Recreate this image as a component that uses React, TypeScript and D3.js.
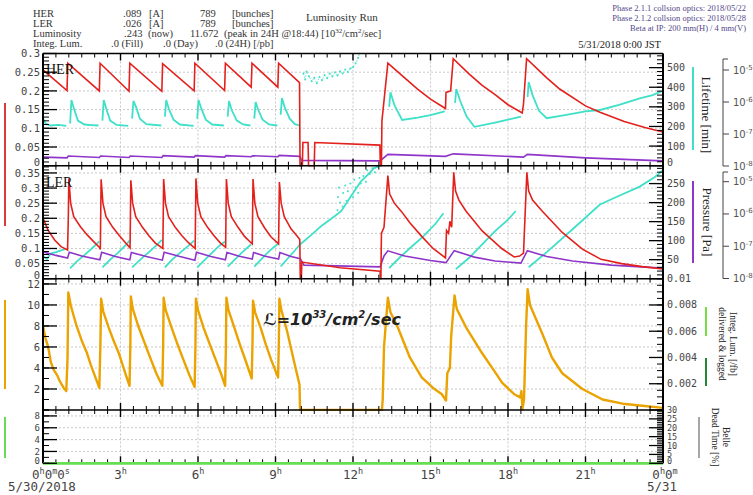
import React from "react";
import * as d3 from "d3";

type Pt = [number, number];

// time axis (hours of 5/30/2018)
const hourTicks = [3, 6, 9, 12, 15, 18, 21];

// HER current [A]
const herCurrent: Pt[] = [
  [0, 0.256], [0.93, 0.201], [0.96, 0.274],
  [2.18, 0.2], [2.21, 0.274],
  [3.33, 0.199], [3.36, 0.274],
  [4.6, 0.199], [4.63, 0.273],
  [5.85, 0.2], [5.88, 0.274],
  [7.03, 0.201], [7.06, 0.274],
  [8.06, 0.21], [8.09, 0.274],
  [9.09, 0.21], [9.12, 0.274],
  [9.93, 0.222], [9.95, 0], [10.04, 0], [10.06, 0.062], [10.26, 0.062], [10.28, 0], [10.5, 0],
  [10.52, 0.062], [13.04, 0.055], [13.06, 0], [13.1, 0], [13.12, 0.12], [13.35, 0.274],
  [14.0, 0.235], [14.5, 0.205], [15.0, 0.178], [15.58, 0.153], [15.6, 0.196], [15.78, 0.2], [15.88, 0.286],
  [16.5, 0.245], [17.0, 0.215], [17.5, 0.19], [18.0, 0.163], [18.55, 0.141], [18.6, 0.165], [18.72, 0.286],
  [19.5, 0.235], [20.0, 0.205], [21.0, 0.16], [21.56, 0.143], [22.5, 0.118], [23.3, 0.102], [24.0, 0.09],
];

// HER lifetime [min], one run per fill
const herLifetime: Pt[][] = [
  [[0, 242], [0.1, 215], [0.3, 205], [0.6, 208], [0.9, 203]],
  [[1.05, 215], [1.1, 335], [1.2, 290], [1.35, 230], [1.6, 210], [1.9, 207], [2.15, 205]],
  [[2.3, 230], [2.35, 335], [2.45, 290], [2.6, 230], [2.85, 208], [3.3, 203]],
  [[3.45, 240], [3.5, 330], [3.6, 300], [3.75, 240], [4.0, 212], [4.58, 205]],
  [[4.72, 250], [4.77, 335], [4.87, 290], [5.05, 235], [5.3, 210], [5.83, 203]],
  [[5.97, 240], [6.02, 335], [6.12, 295], [6.3, 235], [6.55, 210], [7.0, 205]],
  [[7.15, 250], [7.2, 330], [7.3, 285], [7.5, 230], [7.75, 210], [8.03, 205]],
  [[8.18, 240], [8.23, 325], [8.33, 285], [8.5, 235], [8.75, 210], [9.07, 205]],
  [[9.2, 260], [9.25, 345], [9.35, 300], [9.55, 240], [9.75, 212], [9.93, 205]],
  [[13.4, 300], [13.45, 374], [13.6, 310], [13.9, 233], [14.5, 245], [15.0, 258], [15.55, 277]],
  [[15.95, 320], [16.0, 391], [16.15, 330], [16.4, 250], [16.7, 198], [17.5, 220], [18.0, 235], [18.5, 250]],
  [[18.76, 350], [18.8, 427], [18.95, 360], [19.2, 280], [19.5, 242], [20.2, 258], [21.0, 277],
   [21.56, 284], [22.3, 310], [23.1, 343], [23.6, 360], [23.95, 380]],
];

// HER lifetime while the beams are off
const herLifetimeOff: Pt[] = [
  [10.08, 470], [10.15, 440], [10.2, 480], [10.3, 455], [10.4, 430], [10.5, 448], [10.6, 420],
  [10.7, 452], [10.8, 436], [10.9, 462], [11.0, 446], [11.1, 470], [11.2, 455], [11.3, 476],
  [11.4, 460], [11.5, 482], [11.6, 470], [11.7, 490], [11.8, 478], [11.9, 496], [12.0, 502],
  [12.1, 522], [12.2, 550], [12.25, 572],
];

// HER pressure [Pa]
const herPressure: Pt[] = [
  [0, 1.9e-8], [0.93, 1.8e-8], [0.98, 2.05e-8], [2.18, 1.85e-8], [2.23, 2.05e-8], [3.33, 1.85e-8],
  [3.38, 2.05e-8], [4.6, 1.85e-8], [4.65, 2.1e-8], [5.85, 1.9e-8], [5.9, 2.1e-8], [7.03, 1.9e-8],
  [7.08, 2.1e-8], [8.06, 1.95e-8], [8.11, 2.1e-8], [9.09, 1.95e-8], [9.14, 2.15e-8], [9.95, 2.0e-8],
  [10.0, 1.5e-8], [13.05, 1.45e-8], [13.35, 2.3e-8], [15.58, 2.0e-8], [15.88, 2.4e-8],
  [18.6, 1.9e-8], [18.75, 2.3e-8], [21.0, 1.8e-8], [24, 1.45e-8],
];

// LER current [A]
const lerCurrent: Pt[] = [
  [0, 0.2], [0.2, 0.16], [0.45, 0.128], [0.7, 0.106], [0.95, 0.095], [0.98, 0.2], [1.0, 0.332],
  [1.07, 0.25], [1.19, 0.205], [1.45, 0.172], [1.71, 0.145], [1.97, 0.122], [2.17, 0.105], [2.22, 0.097], [2.25, 0.329],
  [2.32, 0.25], [2.44, 0.205], [2.7, 0.17], [2.95, 0.143], [3.2, 0.118], [3.37, 0.102], [3.4, 0.326],
  [3.47, 0.25], [3.59, 0.205], [3.85, 0.17], [4.1, 0.142], [4.35, 0.118], [4.64, 0.1], [4.67, 0.33],
  [4.74, 0.25], [4.86, 0.205], [5.12, 0.17], [5.37, 0.143], [5.62, 0.12], [5.89, 0.1], [5.92, 0.332],
  [5.99, 0.25], [6.11, 0.205], [6.37, 0.17], [6.62, 0.142], [6.87, 0.118], [7.07, 0.104], [7.1, 0.33],
  [7.17, 0.25], [7.29, 0.205], [7.55, 0.17], [7.8, 0.14], [8.1, 0.115], [8.13, 0.33],
  [8.2, 0.25], [8.32, 0.205], [8.58, 0.168], [8.83, 0.138], [9.12, 0.115], [9.15, 0.32],
  [9.22, 0.25], [9.34, 0.205], [9.6, 0.165], [9.85, 0.14], [9.94, 0.13], [9.96, 0], [10.0, 0],
  [10.02, 0.055], [11.5, 0.036], [13.05, 0.025], [13.06, 0], [13.08, 0], [13.1, 0.15], [13.2, 0.17], [13.35, 0.341],
  [13.42, 0.28], [13.6, 0.25], [13.88, 0.222], [14.2, 0.185], [14.66, 0.14], [15.1, 0.1], [15.44, 0.078],
  [15.58, 0.069], [15.62, 0.16], [15.7, 0.15], [15.75, 0.19], [15.82, 0.17], [15.9, 0.352],
  [15.97, 0.29], [16.1, 0.26], [16.37, 0.224], [17.0, 0.158], [17.77, 0.099], [18.24, 0.072],
  [18.45, 0.075], [18.6, 0.085], [18.73, 0.352],
  [18.8, 0.29], [18.95, 0.26], [19.32, 0.224], [20.1, 0.153], [20.88, 0.098], [21.6, 0.064],
  [22.4, 0.05], [23.2, 0.04], [24, 0.032],
];

// LER lifetime [min], one run per fill
const lerLifetime: Pt[][] = [
  [[0, 60], [0.15, 52], [0.3, 66], [0.5, 70], [0.85, 78]],
  [[1.05, 27], [1.3, 45], [1.6, 62], [1.9, 80], [2.18, 98]],
  [[2.3, 30], [2.6, 50], [2.9, 68], [3.2, 88], [3.35, 100]],
  [[3.45, 30], [3.8, 52], [4.1, 70], [4.4, 88], [4.6, 102]],
  [[4.72, 30], [5.0, 50], [5.3, 68], [5.6, 85], [5.85, 100]],
  [[5.97, 30], [6.3, 52], [6.6, 72], [6.85, 88], [7.05, 98]],
  [[7.15, 32], [7.45, 52], [7.75, 72], [8.05, 90]],
  [[8.18, 32], [8.5, 55], [8.8, 75], [9.1, 92]],
  [[9.2, 32], [9.5, 55], [9.8, 78], [9.95, 90], [10.3, 110], [10.8, 140], [11.3, 165], [11.55, 178],
   [11.9, 215], [12.3, 255], [12.6, 275], [12.8, 290], [13.0, 296]],
  [[13.4, 28], [13.8, 55], [14.2, 80], [14.7, 110], [15.2, 145], [15.5, 172]],
  [[15.98, 25], [16.5, 55], [17.0, 90], [17.5, 125], [18.0, 155], [18.3, 178]],
  [[18.8, 30], [19.5, 70], [20.5, 130], [21.56, 195], [22.3, 218], [23.1, 242], [23.7, 268], [24, 285]],
];

// LER lifetime while the beams are off
const lerLifetimeOff: Pt[] = [
  [11.4, 180], [11.42, 215], [11.45, 240], [11.5, 200], [11.6, 190], [11.62, 225], [11.7, 245],
  [11.75, 205], [11.8, 230], [11.9, 250], [12.0, 215], [12.05, 260], [12.1, 240], [12.2, 225],
  [12.25, 265], [12.3, 250], [12.4, 270], [12.5, 255], [12.55, 285], [12.65, 275], [12.75, 290],
  [12.85, 280], [12.95, 295],
];

// LER pressure [Pa]
const lerPressure: Pt[] = [
  [0, 6.7e-8], [0.5, 5.2e-8], [0.95, 4.3e-8], [1.02, 6.5e-8], [1.5, 5e-8], [2.2, 3.8e-8],
  [2.27, 6.5e-8], [2.8, 4.8e-8], [3.36, 3.8e-8], [3.42, 6.4e-8], [4.0, 4.8e-8], [4.62, 3.7e-8],
  [4.69, 6.5e-8], [5.3, 4.8e-8], [5.88, 3.7e-8], [5.94, 6.5e-8], [6.5, 4.8e-8], [7.06, 3.8e-8],
  [7.12, 6.4e-8], [7.6, 4.9e-8], [8.1, 4.0e-8], [8.15, 6.4e-8], [8.6, 4.9e-8], [9.12, 4.0e-8],
  [9.17, 6.4e-8], [9.6, 4.8e-8], [9.96, 4.1e-8], [10.1, 2.6e-8], [13.05, 2.3e-8], [13.2, 5e-8],
  [13.35, 7.2e-8], [14.0, 5.0e-8], [15.0, 3.6e-8], [15.6, 3.1e-8], [15.92, 7.3e-8], [16.7, 4.6e-8],
  [17.5, 3.5e-8], [18.5, 3.0e-8], [18.75, 7.3e-8], [19.5, 4.8e-8], [20.5, 3.5e-8], [22, 2.6e-8],
  [24, 2.1e-8],
];

// Luminosity [10^33/cm^2/s]
const luminosity: Pt[] = [
  [0, 8.0], [0.1, 6.8], [0.2, 6.0], [0.3, 4.6], [0.4, 3.9], [0.55, 3.3], [0.66, 2.7], [0.8, 2.1], [0.9, 1.8], [0.95, 5.0], [0.98, 11.2],
  [1.08, 9.9], [1.3, 8.0], [1.5, 6.6], [1.69, 5.5], [1.85, 4.3], [2.0, 3.3], [2.18, 2.1], [2.22, 6.0], [2.25, 10.6],
  [2.33, 9.4], [2.55, 7.8], [2.75, 6.5], [2.95, 5.3], [3.2, 3.4], [3.35, 2.3], [3.38, 6.0], [3.4, 10.8],
  [3.48, 9.6], [3.7, 7.9], [3.9, 6.6], [4.1, 5.3], [4.4, 3.4], [4.62, 2.3], [4.65, 6.0], [4.67, 10.7],
  [4.75, 9.5], [4.97, 7.9], [5.17, 6.5], [5.37, 5.2], [5.67, 3.3], [5.87, 2.2], [5.9, 6.0], [5.92, 10.6],
  [6.0, 9.5], [6.22, 7.8], [6.42, 6.5], [6.62, 5.2], [6.9, 3.4], [7.05, 2.3], [7.08, 6.0], [7.1, 10.7],
  [7.18, 9.5], [7.4, 7.9], [7.6, 6.4], [7.8, 5.0], [8.08, 3.0], [8.11, 6.5], [8.13, 10.4],
  [8.21, 9.3], [8.43, 7.8], [8.63, 6.2], [8.83, 4.8], [9.1, 3.1], [9.13, 6.5], [9.15, 10.6],
  [9.23, 9.5], [9.45, 7.5], [9.7, 4.8], [9.93, 2.4], [9.95, 0], [13.12, 0], [13.15, 1.0], [13.2, 6.0], [13.35, 10.7],
  [13.45, 9.3], [13.73, 7.9], [14.2, 5.0], [14.66, 3.1], [15.1, 2.1], [15.44, 1.5], [15.6, 0.9], [15.65, 3.5],
  [15.75, 4.0], [15.8, 7.0], [15.93, 10.9],
  [16.02, 9.6], [16.37, 7.9], [17.0, 5.4], [17.5, 3.6], [17.77, 2.6], [18.24, 1.5], [18.47, 1.2], [18.52, 1.8],
  [18.56, 0.1], [18.62, 1.0], [18.7, 8.0], [18.76, 11.5],
  [18.85, 10.0], [19.32, 7.3], [19.7, 5.0], [20.1, 3.5], [20.88, 2.0], [21.66, 1.0], [22.44, 0.6], [23.2, 0.4], [24, 0.2],
];

// Belle dead time [%]
const deadTime: Pt[] = [[0, 0], [24, 0]];

// ---- layout ----
const L = 43;
const R = 663;
const P1 = [53.5, 165.7];
const P2 = [165.7, 278.7];
const P3 = [278.7, 410];
const P4 = [410, 463.3];

const RED = "#e3211c";
const CYAN = "#3fe0c8";
const PURPLE = "#8f35c9";
const ORANGE = "#eaa300";
const GREEN = "#66dd55";
const MONO = "'DejaVu Sans Mono', monospace";
const SANS = "'DejaVu Sans', sans-serif";
const SERIF = "'Liberation Serif', 'Times New Roman', serif";

const x = d3.scaleLinear().domain([0, 24]).range([L, R]);
const yHer = d3.scaleLinear().domain([0, 0.3]).range([P1[1], P1[0]]);
const yHerLife = d3.scaleLinear().domain([0, 572]).range([P1[1], P1[0]]);
const yHerPres = d3.scaleLog().domain([1e-8, 1e-5]).range([166, 70]);
const yLer = d3.scaleLinear().domain([0, 0.374]).range([P2[1], P2[0]]);
const yLerLife = d3.scaleLinear().domain([0, 297]).range([P2[1], P2[0]]);
const yLerPres = d3.scaleLog().domain([1e-8, 1e-5]).range([278.5, 181.7]);
const yLum = d3.scaleLinear().domain([0, 12.5]).range([P3[1], P3[0]]);
const yInteg = d3.scaleLinear().domain([0, 0.01]).range([P3[1], P3[0]]);
const yDead = d3.scaleLinear().domain([0, 9]).range([P4[1], P4[0]]);
const yDeadR = d3.scaleLinear().domain([0, 30]).range([P4[1], P4[0]]);

const steps = (lo: number, hi: number, st: number) =>
  d3.range(0, Math.round((hi - lo) / st) + 1).map((i) => +(lo + i * st).toFixed(6));
const fmt = (v: number) => String(+v.toFixed(4));

function path(data: Pt[], ys: (v: number) => number) {
  return d3
    .line<Pt>()
    .x((d) => x(d[0]))
    .y((d) => ys(d[1]))(data) as string;
}

// zero labels on shared panel edges sit a little higher, like the original
function leftAxis(key: string, s: any, majors: number[], minors: number[], labels: number[], fs = 10.5) {
  return (
    <g key={key} stroke="#000">
      {minors.map((v, i) => (
        <line key={"m" + i} x1={L} x2={L + 6} y1={s(v)} y2={s(v)} />
      ))}
      {majors.map((v, i) => (
        <line key={"M" + i} x1={L} x2={L + 14} y1={s(v)} y2={s(v)} strokeWidth={1.3} />
      ))}
      {labels.map((v, i) => (
        <text key={"t" + i} x={L - 3} y={s(v)} dy={v === 0 ? "0.05em" : "0.35em"} textAnchor="end" fontSize={fs}
          fontFamily={MONO} fill="#444" stroke="none">
          {fmt(v)}
        </text>
      ))}
    </g>
  );
}

function rightAxis(key: string, s: any, majors: number[], minors: number[], labels: number[], fs = 10) {
  return (
    <g key={key} stroke="#000">
      {minors.map((v, i) => (
        <line key={"m" + i} x1={R - 6} x2={R} y1={s(v)} y2={s(v)} />
      ))}
      {majors.map((v, i) => (
        <line key={"M" + i} x1={R - 14} x2={R} y1={s(v)} y2={s(v)} strokeWidth={1.3} />
      ))}
      {labels.map((v, i) => (
        <text key={"t" + i} x={R + 4} y={s(v)} dy={v === 0 ? "0.05em" : "0.35em"} fontSize={fs}
          fontFamily={MONO} fill="#444" stroke="none">
          {fmt(v)}
        </text>
      ))}
    </g>
  );
}

function logAxis(key: string, s: any, top: number) {
  const ax = 723;
  const decades = [-8, -7, -6, -5];
  return (
    <g key={key}>
      <line x1={ax} x2={ax} y1={top} y2={s(1e-8)} stroke="#444" />
      <line x1={ax} x2={ax + 5} y1={top} y2={top} stroke="#444" />
      {decades.map((k) => (
        <g key={k}>
          <line x1={ax} x2={ax + 6} y1={s(Math.pow(10, k))} y2={s(Math.pow(10, k))} stroke="#444" />
          <text x={ax + 10} y={s(Math.pow(10, k))} dy="0.35em" fontSize={10} fontFamily={SANS} fill="#555">
            10<tspan fontSize={7} dy={-4}>{k}</tspan>
          </text>
        </g>
      ))}
    </g>
  );
}

function rotLabel(lines: { t: string; x: number }[], cy: number, fs: number) {
  return lines.map((l, i) => (
    <text key={l.t + i} transform={`translate(${l.x},${cy}) rotate(90)`} textAnchor="middle"
      dy="0.35em" fontSize={fs} fontFamily={SERIF} fill="#222">
      {l.t}
    </text>
  ));
}

export default function App() {
  const edges = [
    { y: P1[0], up: 0, down: 1 },
    { y: P2[0], up: 1, down: 1 },
    { y: P3[0], up: 1, down: 1 },
    { y: P4[0], up: 1, down: 1 },
    { y: P4[1], up: 1, down: 0 },
  ];
  const halfHours = d3.range(0, 48.5, 1).map((i) => i / 2);
  const panels = [P1, P2, P3, P4];
  const hGrid: { y: number }[] = [
    ...steps(0.05, 0.25, 0.05).map((v) => ({ y: yHer(v) })),
    ...steps(0.05, 0.35, 0.05).map((v) => ({ y: yLer(v) })),
    ...steps(2, 12, 2).map((v) => ({ y: yLum(v) })),
    ...steps(2, 8, 2).map((v) => ({ y: yDead(v) })),
  ];
  const sup = (s: string) => (
    <tspan fontSize={8.5} dy={-5}>{s}</tspan>
  );

  return (
    <svg width={753} height={495} style={{ position: "absolute", left: 0, top: 0, background: "#fff" }}>
      <defs>
        {panels.map((p, i) => (
          <clipPath id={"clip" + i} key={i}>
            <rect x={L} y={p[0] - 1} width={R - L} height={p[1] - p[0] + 2} />
          </clipPath>
        ))}
      </defs>

      {/* header */}
      <g fontFamily={SERIF} fontSize={10.5} fill="#333">
        <text x={33} y={17}>HER</text>
        <text x={123} y={17}>.089</text>
        <text x={149} y={17}>[A]</text>
        <text x={200} y={17}>789</text>
        <text x={232} y={17}>[bunches]</text>
        <text x={33} y={27}>LER</text>
        <text x={123} y={27}>.026</text>
        <text x={149} y={27}>[A]</text>
        <text x={200} y={27}>789</text>
        <text x={232} y={27}>[bunches]</text>
        <text x={33} y={37}>Luminosity</text>
        <text x={124} y={37}>.243</text>
        <text x={148} y={37}>(now)</text>
        <text x={190} y={37}>11.672</text>
        <text x={224} y={37}>
          (peak in 24H @18:44) [10<tspan fontSize={7} dy={-4}>32</tspan>
          <tspan dy={4}>/cm</tspan>
          <tspan fontSize={7} dy={-4}>2</tspan>
          <tspan dy={4}>/sec]</tspan>
        </text>
        <text x={33} y={47}>Integ. Lum.</text>
        <text x={111} y={47}>.0 (Fill)</text>
        <text x={163} y={47}>.0 (Day)</text>
        <text x={215} y={47}>.0 (24H) [/pb]</text>
        <text x={306} y={21} fontSize={11}>Luminosity Run</text>
      </g>
      <g fontFamily={SERIF} fontSize={8.5} fill="#54488a" textAnchor="end">
        <text x={746} y={11}>Phase 2.1.1 collsion optics: 2018/05/22</text>
        <text x={746} y={21}>Phase 2.1.2 collsion optics: 2018/05/28</text>
        <text x={746} y={31}>Beta at IP: 200 mm(H) / 4 mm(V)</text>
      </g>
      <text x={661} y={48} textAnchor="end" fontFamily={SERIF} fontSize={10.5} fill="#222">
        5/31/2018 0:00 JST
      </text>

      {/* grid */}
      <g stroke="#bbb" strokeWidth={0.8} strokeDasharray="2,2">
        {hourTicks.map((h) => (
          <line key={h} x1={x(h)} x2={x(h)} y1={P1[0]} y2={P4[1]} />
        ))}
        {hGrid.map((g, i) => (
          <line key={i} x1={L} x2={R} y1={g.y} y2={g.y} />
        ))}
      </g>

      {/* HER panel */}
      <g clipPath="url(#clip0)" fill="none">
        <path d={path(herPressure, yHerPres)} stroke={PURPLE} strokeWidth={1.6} />
        {herLifetime.map((seg, i) => (
          <path key={i} d={path(seg, yHerLife)} stroke={CYAN} strokeWidth={1.8} />
        ))}
        <path d={path(herLifetimeOff, yHerLife)} stroke={CYAN} strokeWidth={0.8} strokeDasharray="1.5,1.5" />
        {herLifetimeOff.map((d, i) => (
          <circle key={i} cx={x(d[0])} cy={yHerLife(d[1])} r={1} fill={CYAN} />
        ))}
        <path d={path(herCurrent, yHer)} stroke={RED} strokeWidth={1.6} />
      </g>
      <text x={46} y={74} fontFamily={SERIF} fontSize={14} fill="#111">HER</text>

      {/* LER panel */}
      <g clipPath="url(#clip1)" fill="none">
        {lerLifetime.map((seg, i) => (
          <path key={i} d={path(seg, yLerLife)} stroke={CYAN} strokeWidth={1.8} />
        ))}
        {lerLifetimeOff.map((d, i) => (
          <circle key={i} cx={x(d[0])} cy={yLerLife(d[1])} r={1} fill={CYAN} />
        ))}
        <path d={path(lerPressure, yLerPres)} stroke={PURPLE} strokeWidth={1.6} />
        <path d={path(lerCurrent, yLer)} stroke={RED} strokeWidth={1.6} />
      </g>
      <text x={46} y={187} fontFamily={SERIF} fontSize={14} fill="#111">LER</text>

      {/* luminosity panel */}
      <g clipPath="url(#clip2)" fill="none">
        <path d={path(luminosity, yLum)} stroke={ORANGE} strokeWidth={2.4} strokeLinejoin="round" />
      </g>
      <text x={263} y={325} fontFamily={SANS} fontWeight="bold" fontStyle="italic" fontSize={16} fill="#222">
        ℒ=10<tspan fontSize={10} dy={-7}>33</tspan>
        <tspan dy={7}>/cm</tspan>
        <tspan fontSize={10} dy={-7}>2</tspan>
        <tspan dy={7}>/sec</tspan>
      </text>

      {/* dead time panel */}
      <path d={path(deadTime, yDeadR)} stroke={GREEN} strokeWidth={2.5} fill="none" />

      {/* frame */}
      <g stroke="#000">
        <line x1={L} x2={L} y1={P1[0]} y2={P4[1]} strokeWidth={2} />
        <line x1={R} x2={R} y1={P1[0]} y2={P4[1]} strokeWidth={2} />
        {edges.map((e, i) => (
          <g key={i}>
            <line x1={L} x2={R} y1={e.y} y2={e.y} strokeWidth={i === 4 ? 0.6 : 1.4} />
            {halfHours.map((h) => {
              const len = h % 3 === 0 ? 7 : 4;
              return (
                <line key={h} x1={x(h)} x2={x(h)} y1={e.y - len * e.up} y2={e.y + len * e.down}
                  strokeWidth={h % 3 === 0 ? 1.4 : 1} />
              );
            })}
          </g>
        ))}
      </g>
      <line x1={L} x2={R} y1={P4[1]} y2={P4[1]} stroke={GREEN} strokeWidth={2.5} />

      {/* axes */}
      {leftAxis("her", yHer, steps(0, 0.3, 0.05), steps(0, 0.3, 0.01), steps(0, 0.3, 0.05))}
      {leftAxis("ler", yLer, steps(0, 0.35, 0.05), steps(0, 0.37, 0.01), steps(0, 0.35, 0.05))}
      {leftAxis("lum", yLum, steps(2, 12, 2), steps(0, 12, 1), steps(2, 12, 2))}
      {leftAxis("dead", yDead, steps(0, 8, 2), steps(0, 9, 1), steps(0, 8, 2), 9)}
      {rightAxis("herl", yHerLife, steps(0, 500, 100), steps(0, 560, 20), steps(0, 500, 100))}
      {rightAxis("lerl", yLerLife, steps(50, 250, 50), steps(0, 290, 10), steps(50, 250, 50))}
      {rightAxis("integ", yInteg, steps(0.002, 0.01, 0.002), steps(0, 0.01, 0.0005), steps(0.002, 0.01, 0.002))}
      {rightAxis("deadr", yDeadR, steps(0, 30, 5), steps(0, 30, 1), steps(0, 30, 5), 8.5)}
      {logAxis("herp", yHerPres, 59)}
      {logAxis("lerp", yLerPres, 172)}

      {/* x labels */}
      <g fontFamily={MONO} fontSize={12.5} fill="#444">
        <text x={32} y={479}>
          0{sup("h")}<tspan dy={5}>0</tspan>{sup("m")}<tspan dy={5}>0</tspan>{sup("s")}
        </text>
        {hourTicks.map((h) => (
          <text key={h} x={x(h)} y={479} textAnchor="middle">
            {h}{sup("h")}
          </text>
        ))}
        <text x={665} y={479} textAnchor="middle">
          0{sup("h")}<tspan dy={5}>0</tspan>{sup("m")}
        </text>
        <text x={8} y={491}>5/30/2018</text>
        <text x={662} y={491} textAnchor="middle">5/31</text>
      </g>

      {/* colour keys */}
      <line x1={5} x2={5} y1={103} y2={226} stroke="#d93a3a" strokeWidth={2} />
      <line x1={5} x2={5} y1={300} y2={389} stroke={ORANGE} strokeWidth={2} />
      <line x1={5} x2={5} y1={417} y2={458} stroke={GREEN} strokeWidth={2} />
      <line x1={693} x2={693} y1={67} y2={150} stroke={CYAN} strokeWidth={2} />
      <line x1={693} x2={693} y1={181} y2={263} stroke={PURPLE} strokeWidth={2} />
      <line x1={706} x2={706} y1={307} y2={336} stroke="#77dd44" strokeWidth={2} />
      <line x1={706} x2={706} y1={358} y2={386} stroke="#228833" strokeWidth={2} />
      <line x1={699} x2={699} y1={417} y2={458} stroke="#888" strokeWidth={1.5} />
      {rotLabel([{ t: "Lifetime [min]", x: 707 }], 115, 13)}
      {rotLabel([{ t: "Pressure [Pa]", x: 708 }], 222, 13)}
      {rotLabel([{ t: "Integ. Lum. [/fb]", x: 733 }, { t: "delivered & logged", x: 722 }], 344, 9.5)}
      {rotLabel([{ t: "Belle", x: 726 }, { t: "Dead Time [%]", x: 715 }], 437, 9.5)}
    </svg>
  );
}
